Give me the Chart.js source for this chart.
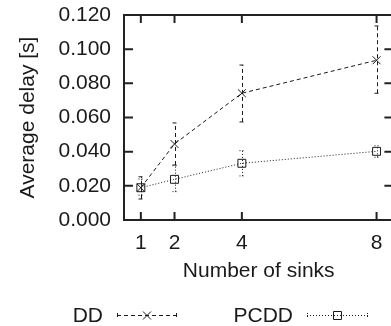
<!DOCTYPE html>
<html>
<head>
<meta charset="utf-8">
<script src="https://cdn.jsdelivr.net/npm/chart.js@4/dist/chart.umd.min.js"></script>
<style>
html,body{margin:0;padding:0;background:#fff;overflow:hidden;}
canvas{display:block;}
</style>
</head>
<body>
<canvas id="c" width="400" height="326"></canvas>
<script>
const sinks = [1, 2, 4, 8];
const xTicks = [1, 2, 4, 8];
const ddDelay = [0.0189, 0.0445, 0.0742, 0.0935];
const ddLow = [0.0123, 0.0322, 0.0574, 0.0742];
const ddHigh = [0.0253, 0.0568, 0.0907, 0.1136];
const pcddDelay = [0.0189, 0.0238, 0.0332, 0.0402];
const pcddLow = [0.0145, 0.0166, 0.0258, 0.0367];
const pcddHigh = [0.0240, 0.0318, 0.0406, 0.0435];
const seriesNames = ['DD', 'PCDD'];

const FONT = '"Liberation Sans", Arial, sans-serif';
const INK = '#1a1a1a';

const errorBars = {
  id: 'errorBars',
  afterDatasetsDraw(chart) {
    const ctx = chart.ctx, xs = chart.scales.x, ys = chart.scales.y;
    const sets = [[ddLow, ddHigh, [4, 3]], [pcddLow, pcddHigh, [1, 2]]];
    ctx.save();
    ctx.strokeStyle = INK; ctx.lineWidth = 1;
    sets.forEach(([lo, hi, dash]) => {
      ctx.setLineDash(dash);
      sinks.forEach((s, i) => {
        const px = Math.round(xs.getPixelForValue(s)) + 0.5;
        const y1 = ys.getPixelForValue(lo[i]), y2 = ys.getPixelForValue(hi[i]);
        ctx.beginPath();
        ctx.moveTo(px, y1); ctx.lineTo(px, y2);
        ctx.moveTo(px - 3, y1); ctx.lineTo(px + 3, y1);
        ctx.moveTo(px - 3, y2); ctx.lineTo(px + 3, y2);
        ctx.stroke();
      });
    });
    ctx.restore();
  }
};

const frame = {
  id: 'frame',
  afterDraw(chart) {
    const ctx = chart.ctx, a = chart.chartArea, xs = chart.scales.x, ys = chart.scales.y;
    ctx.save();
    ctx.strokeStyle = '#222'; ctx.lineWidth = 2; ctx.setLineDash([]);
    ctx.beginPath();
    ctx.moveTo(a.left, a.top); ctx.lineTo(a.right, a.top);
    ctx.lineTo(a.right, a.bottom); ctx.lineTo(a.left, a.bottom); ctx.closePath();
    ctx.stroke();
    ys.ticks.forEach(t => {
      const py = ys.getPixelForValue(t.value);
      ctx.beginPath();
      ctx.moveTo(a.left, py); ctx.lineTo(a.left + 9, py);
      ctx.moveTo(a.right, py); ctx.lineTo(a.right - 9, py);
      ctx.stroke();
    });
    xs.ticks.forEach(t => {
      const px = xs.getPixelForValue(t.value);
      ctx.beginPath();
      ctx.moveTo(px, a.bottom); ctx.lineTo(px, a.bottom - 8);
      ctx.moveTo(px, a.top); ctx.lineTo(px, a.top + 8);
      ctx.stroke();
    });
    // legend
    ctx.font = '21px ' + FONT;
    ctx.fillStyle = INK;
    ctx.textAlign = 'right';
    ctx.textBaseline = 'alphabetic';
    const ly = 315;
    const entries = [
      {name: seriesNames[0], tx: 103, x0: 117, x1: 177, dash: [4, 3], marker: 'x'},
      {name: seriesNames[1], tx: 293, x0: 307, x1: 368, dash: [1, 2], marker: 'box'}
    ];
    entries.forEach(e => {
      ctx.fillText(e.name, e.tx, 322);
      ctx.strokeStyle = INK; ctx.lineWidth = 1;
      ctx.setLineDash(e.dash);
      ctx.beginPath();
      ctx.moveTo(e.x0, ly + 0.5); ctx.lineTo(e.x1, ly + 0.5);
      ctx.stroke();
      ctx.beginPath();
      ctx.moveTo(e.x0 + 0.5, ly - 2); ctx.lineTo(e.x0 + 0.5, ly + 3);
      ctx.moveTo(e.x1 - 0.5, ly - 2); ctx.lineTo(e.x1 - 0.5, ly + 3);
      ctx.stroke();
      ctx.setLineDash([]);
      const mx = (e.x0 + e.x1) / 2;
      ctx.beginPath();
      if (e.marker === 'x') {
        ctx.moveTo(mx - 4, ly - 3.5); ctx.lineTo(mx + 4, ly + 4.5);
        ctx.moveTo(mx + 4, ly - 3.5); ctx.lineTo(mx - 4, ly + 4.5);
      } else {
        ctx.rect(mx - 4, ly - 3.5, 8, 8);
      }
      ctx.stroke();
    });
    ctx.restore();
  }
};

new Chart(document.getElementById('c'), {
  type: 'line',
  data: {
    datasets: [
      {
        label: seriesNames[0],
        data: sinks.map((s, i) => ({x: s, y: ddDelay[i]})),
        borderColor: INK, borderWidth: 1, borderDash: [4, 3],
        pointStyle: 'crossRot', pointRadius: 5.6, pointBorderWidth: 1,
        pointBorderColor: INK, pointBackgroundColor: 'rgba(0,0,0,0)',
        tension: 0, fill: false
      },
      {
        label: seriesNames[1],
        data: sinks.map((s, i) => ({x: s, y: pcddDelay[i]})),
        borderColor: INK, borderWidth: 1, borderDash: [1, 2],
        pointStyle: 'rect', pointRadius: 5.6, pointBorderWidth: 1,
        pointBorderColor: INK, pointBackgroundColor: 'rgba(0,0,0,0)',
        tension: 0, fill: false
      }
    ]
  },
  options: {
    responsive: false,
    animation: false,
    devicePixelRatio: 1,
    layout: {padding: {top: 15, right: 1, bottom: 0, left: 0}},
    plugins: {legend: {display: false}, tooltip: {enabled: false}},
    scales: {
      x: {
        type: 'linear', min: 0.5, max: 8.5,
        afterBuildTicks: s => { s.ticks = xTicks.map(v => ({value: v})); },
        afterFit: s => { s.height = 106; s.paddingLeft = 0; s.paddingRight = 0; },
        grid: {display: false, drawTicks: false},
        border: {display: false},
        ticks: {color: INK, font: {family: FONT, size: 21}, padding: 11, maxRotation: 0, autoSkip: false,
                callback: v => String(v)},
        title: {display: true, text: 'Number of sinks', color: INK,
                font: {family: FONT, size: 21}, padding: {top: 0, bottom: 42}}
      },
      y: {
        min: 0, max: 0.12,
        afterFit: s => { s.width = 124; s.paddingTop = 0; s.paddingBottom = 0; },
        grid: {display: false, drawTicks: false},
        border: {display: false},
        ticks: {stepSize: 0.02, color: INK, font: {family: FONT, size: 21}, padding: 13,
                callback: v => Number(v).toFixed(3)},
        title: {display: true, text: 'Average delay [s]', color: INK,
                font: {family: FONT, size: 21}, padding: {top: 16, bottom: 0}}
      }
    }
  },
  plugins: [errorBars, frame]
});
</script>
</body>
</html>
